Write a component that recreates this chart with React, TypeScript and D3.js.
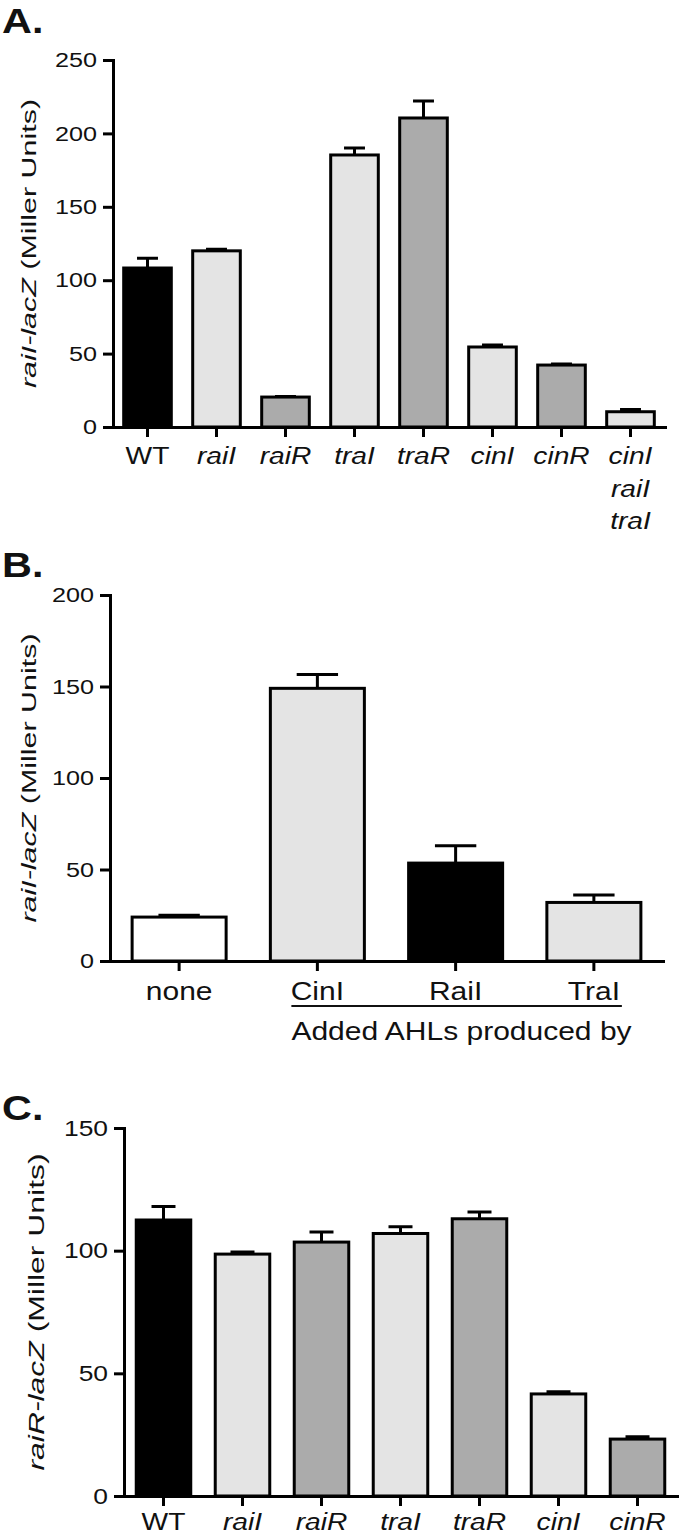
import { useEffect, useRef } from 'react'
import * as d3 from 'd3'

// A. raiI-lacZ in the quorum-sensing mutants
const strainsA = ['WT', 'raiI', 'raiR', 'traI', 'traR', 'cinI', 'cinR', 'cinI\nraiI\ntraI']
const meanA = [108.3, 120, 20.4, 185.3, 210.5, 54.5, 42.2, 10.4]
const errA = [6.7, 1, 0.4, 4.7, 11.5, 1.4, 0.8, 1.6]
const groupA = ['wt', 'I', 'R', 'I', 'R', 'I', 'R', 'I']
const ticksA = [0, 50, 100, 150, 200, 250]

// B. raiI-lacZ with added AHLs
const ahlB = ['none', 'CinI', 'RaiI', 'TraI']
const meanB = [24, 149, 53.5, 32]
const errB = [1, 7.5, 9.5, 4]
const groupB = ['none', 'I', 'wt', 'I']
const ticksB = [0, 50, 100, 150, 200]

// C. raiR-lacZ
const strainsC = ['WT', 'raiI', 'raiR', 'traI', 'traR', 'cinI', 'cinR']
const meanC = [112.5, 98.6, 103.5, 107, 113, 41.6, 23.2]
const errC = [5.5, 0.9, 4.1, 2.7, 2.8, 0.9, 0.9]
const groupC = ['wt', 'I', 'R', 'I', 'R', 'I', 'R']
const ticksC = [0, 50, 100, 150]

const FONT = '"Liberation Sans", Arial, Helvetica, sans-serif'
const SX = 1.2 // lettering in the figure is set wide
const fills: Record<string, string> = { wt: '#000', I: '#e4e4e4', R: '#ababab', none: '#fff' }

function drawPanel(svg: any, p: any) {
  const x = d3.scaleBand<string>()
    .domain(p.cats)
    .range([p.left, p.right])
    .paddingInner(p.pad)
    .paddingOuter(p.pad / 2)
  const y = d3.scaleLinear()
    .domain([0, p.max])
    .range([p.bottom, p.top])
  const bw = x.bandwidth()
  const rows = p.cats.map((c: string, i: number) => ({ c, m: p.mean[i], e: p.err[i], g: p.group[i] }))

  const g = svg.append('g')
  g.selectAll('rect')
    .data(rows)
    .join('rect')
    .attr('x', (d: any) => x(d.c))
    .attr('y', (d: any) => y(d.m))
    .attr('width', bw)
    .attr('height', (d: any) => y(0) - y(d.m))
    .attr('fill', (d: any) => fills[d.g])
    .attr('stroke', '#000')
    .attr('stroke-width', 3)

  // only the upper half of the error bar is shown
  g.selectAll('path')
    .data(rows)
    .join('path')
    .attr('d', (d: any) => {
      const cx = x(d.c)! + bw / 2
      const cw = bw * 0.22
      const yt = y(d.m + d.e)
      return `M${cx},${y(d.m)}V${yt}M${cx - cw},${yt}H${cx + cw}`
    })
    .attr('fill', 'none')
    .attr('stroke', '#000')
    .attr('stroke-width', 3)

  // y axis
  const ya = svg.append('g')
    .attr('transform', `translate(${p.left},0)`)
    .call(d3.axisLeft(y).tickValues(p.ticks).tickSize(10).tickPadding(6).tickSizeOuter(0))
  ya.attr('font-family', FONT).attr('font-size', p.yFont)
  ya.selectAll('path, line').attr('stroke', '#000').attr('stroke-width', 3)
  ya.select('.domain').attr('stroke-linecap', 'square')
  ya.selectAll('text')
    .attr('fill', '#111')
    .attr('x', -16 / SX)
    .attr('transform', `scale(${SX},1)`)

  // x axis
  const xa = svg.append('g')
    .attr('transform', `translate(0,${p.bottom})`)
    .call(d3.axisBottom(x).tickSize(10).tickPadding(p.xPad).tickSizeOuter(0))
  xa.attr('font-family', FONT).attr('font-size', p.xFont)
  xa.selectAll('path, line').attr('stroke', '#000').attr('stroke-width', 3)
  xa.select('.domain').attr('stroke-linecap', 'square')
  xa.selectAll('text')
    .attr('fill', '#111')
    .attr('dy', null)
    .attr('transform', `scale(${SX},1)`)
    .attr('font-style', (d: any) => (p.italic && d !== 'WT' ? 'italic' : 'normal'))
    .each(function (this: any, d: any) {
      const t = d3.select(this)
      const lines = String(d).split('\n')
      t.text(null)
      lines.forEach((ln, i) => {
        t.append('tspan').attr('x', 0).attr('dy', i === 0 ? '0.71em' : '1.4em').text(ln)
      })
    })

  // y title
  const title = svg.append('text')
    .attr('transform', `translate(${p.titleX},${(p.top + p.bottom) / 2}) rotate(-90) scale(1.45,1)`)
    .attr('text-anchor', 'middle')
    .attr('font-family', FONT)
    .attr('font-size', p.titleFont)
    .attr('fill', '#111')
  title.append('tspan').attr('font-style', 'italic').text(p.reporter + '-lacZ')
  title.append('tspan').text(' (Miller Units)')

  // panel letter
  svg.append('text')
    .attr('transform', `translate(2,${p.letterY}) scale(1.15,1)`)
    .attr('font-family', FONT)
    .attr('font-size', 36)
    .attr('font-weight', 'bold')
    .attr('fill', '#111')
    .text(p.letter)

  return x
}

export default function App() {
  const ref = useRef<SVGSVGElement>(null)

  useEffect(() => {
    const svg = d3.select(ref.current)
    svg.selectAll('*').remove()

    drawPanel(svg, {
      cats: strainsA, mean: meanA, err: errA, group: groupA, ticks: ticksA, max: 250,
      left: 113, right: 665, top: 60, bottom: 427, pad: 0.31,
      xPad: 10, xFont: 23.5, yFont: 21, italic: true,
      titleX: 36, titleFont: 21, reporter: 'raiI', letter: 'A.', letterY: 33
    })

    const xB = drawPanel(svg, {
      cats: ahlB, mean: meanB, err: errB, group: groupB, ticks: ticksB, max: 200,
      left: 110, right: 663, top: 595, bottom: 961, pad: 0.32,
      xPad: 11, xFont: 25, yFont: 21, italic: false,
      titleX: 36, titleFont: 21, reporter: 'raiI', letter: 'B.', letterY: 577
    })

    // bracket line under the added AHLs
    const x1 = xB('CinI')! + xB.bandwidth() / 2 - 26
    const x2 = xB('TraI')! + xB.bandwidth() / 2 + 28
    svg.append('line')
      .attr('x1', x1).attr('x2', x2)
      .attr('y1', 1006).attr('y2', 1006)
      .attr('stroke', '#111')
      .attr('stroke-width', 2)
    svg.append('text')
      .attr('transform', `translate(${x1},1040) scale(${SX},1)`)
      .attr('font-family', FONT)
      .attr('font-size', 25)
      .attr('fill', '#111')
      .text('Added AHLs produced by')

    drawPanel(svg, {
      cats: strainsC, mean: meanC, err: errC, group: groupC, ticks: ticksC, max: 150,
      left: 124, right: 677, top: 1128, bottom: 1496, pad: 0.31,
      xPad: 7, xFont: 23.5, yFont: 22, italic: true,
      titleX: 44, titleFont: 22, reporter: 'raiR', letter: 'C.', letterY: 1120
    })
  }, [])

  return (
    <svg
      ref={ref}
      width={680}
      height={1534}
      style={{ position: 'absolute', left: 0, top: 0, background: '#fff' }}
    />
  )
}
